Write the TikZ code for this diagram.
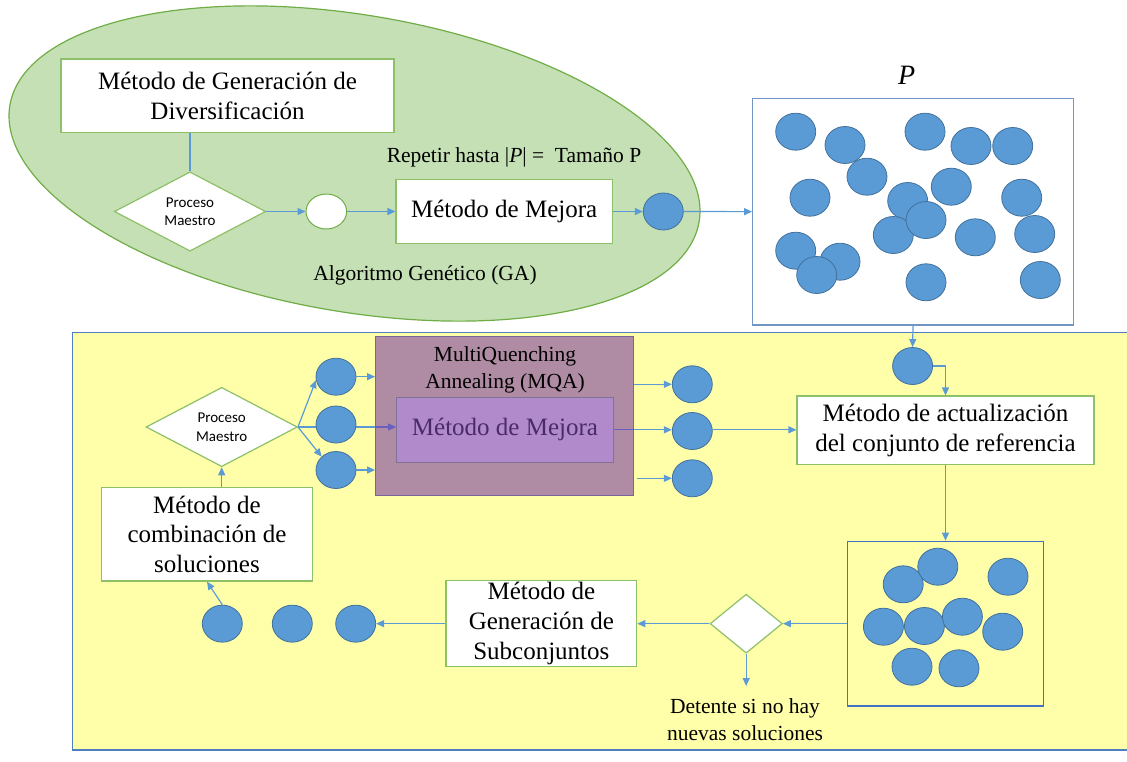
\documentclass[tikz,border=0pt]{standalone}
\usepackage{fontspec}
\setmainfont{Liberation Serif}
\newfontfamily\calfont{Carlito}
\usetikzlibrary{shapes.geometric,arrows.meta}
\definecolor{gaFill}{HTML}{C5E0B4}
\definecolor{gaLine}{HTML}{70AD47}
\definecolor{boxLine}{HTML}{8CC168}
\definecolor{connBlue}{HTML}{5B9BD5}
\definecolor{dotLine}{HTML}{41719C}
\definecolor{yel}{HTML}{FFFFAA}
\definecolor{yelLine}{HTML}{4F7FBF}
\definecolor{pLine}{HTML}{7196C4}
\definecolor{refLine}{HTML}{4472C4}
\definecolor{mqaFill}{HTML}{AF8CA3}
\definecolor{mqaLine}{HTML}{7A64A0}
\definecolor{mejFill}{HTML}{B18ACB}
\definecolor{mejLine}{HTML}{7E7296}
\definecolor{mejText}{HTML}{4A2A6A}
\definecolor{purpConn}{HTML}{6A5FC0}
\begin{document}
\begin{tikzpicture}[x=1pt,y=-1pt,
  big/.style={font=\fontsize{25}{29.7}\selectfont},
  mid/.style={font=\fontsize{21.5}{27}\selectfont},
  gbox/.style={draw=boxLine, line width=1.2pt, fill=white, align=center, inner sep=0pt, big},
  dot/.style={ellipse, draw=dotLine, line width=0.8pt, fill=connBlue, minimum width=40pt, minimum height=37pt, inner sep=0pt},
  wire/.style={draw=connBlue, line width=1.2pt},
  arr/.style={wire, -{Triangle[length=8pt,width=7pt]}},
  parr/.style={draw=purpConn, line width=1.2pt, -{Triangle[length=8pt,width=7pt]}},
  dia/.style={diamond, draw=boxLine, line width=1.2pt, fill=white, inner sep=0pt, align=center, font=\calfont\fontsize{15}{18.5}\selectfont},
  lbl/.style={align=center, inner sep=0pt},
]
\useasboundingbox (0,0) rectangle (1127,761);

% ---------- upper part: Algoritmo Genetico ----------
\node[ellipse, draw=gaLine, line width=1.2pt, fill=gaFill, minimum width=699pt, minimum height=297pt, rotate=-9.6] (ga) at (354.5,163.5) {};

\node[gbox, minimum width=333pt, minimum height=73.3pt] (gen) at (227.5,95.7) {Método de Generación de\\Diversificación};
\node[dia, minimum width=151.4pt, minimum height=79pt] (pm1) at (190,211.5) {Proceso\\Maestro};
\node[ellipse, draw=gaLine, line width=1pt, fill=white, minimum width=40.6pt, minimum height=35pt, inner sep=0pt] (wc) at (326.3,211.5) {};
\node[gbox, minimum width=216.3pt, minimum height=64.3pt] (mej1) at (504.2,211.5) {Método de Mejora};
\node[dot] (gad) at (663.3,211.5) {};
\node[lbl, mid] (rep) at (514,157) {Repetir hasta |\textit{P}| =\ \ Tamaño P};
\node[lbl, mid] (alg) at (425,275) {Algoritmo Genético (GA)};

\draw[wire] (pm1.north) -- (pm1.north |- gen.south);
\draw[arr] (pm1.east) -- (wc.west);
\draw[arr] (wc.east) -- (mej1.west);
\draw[arr] (mej1.east) -- (gad.west);

% ---------- P box ----------
\node[draw=pLine, line width=1.2pt, fill=white, minimum width=320.6pt, minimum height=226.7pt, inner sep=0pt] (pbox) at (913,211.65) {};
\node[lbl, font=\fontsize{28}{30}\selectfont\itshape] (plab) at (906.7,75) {P};
\draw[arr] (gad.east) -- (pbox.west);

\foreach \n/\x/\y in {p1/795.7/131.7, p2/845/145, p3/925/131.7, p4/971/146, p5/1012.7/146,
  p6/867/176.7, p7/810/197.7, p8/951.3/186.7, p9/1021.7/197.7, p10/907.7/201,
  p11/893.3/235, p12/926/220, p13/975.3/237.3, p14/1034.7/234, p15/795.7/250.7,
  p16/840/261.7, p17/816.7/275, p18/926/282.3, p19/1040.3/280}
  \node[dot] (\n) at (\x,\y) {};

% ---------- lower part: yellow region ----------
\fill[yel] (72.7,332.5) rectangle (1127,750);
\draw[yelLine, line width=1.2pt] (1127,332.5) -- (72.7,332.5) -- (72.7,750) -- (1127,750);

% P -> dot -> actualizacion
\node[dot] (pdot) at (912.6,366) {};
\draw[arr] (pbox.south) -- (pdot.north);
\node[gbox, minimum width=297pt, minimum height=68.3pt] (act) at (945.5,430.2) {Método de actualización\\del conjunto de referencia};
\draw[arr] (pdot.east) -| (act.north);

% reference set
\node[draw=refLine, line width=1.2pt, minimum width=196.4pt, minimum height=164.7pt, inner sep=0pt] (ref) at (945.5,623.65) {};
\draw[arr] (act.south) -- (ref.north);
\foreach \n/\x/\y in {r1/903.2/584.3, r2/937.8/566.7, r3/1008/576.7, r4/883.4/626.7,
  r5/924.4/626, r6/962.4/616.7, r7/1002.7/631.7, r8/912/666.7, r9/959/668.3}
  \node[dot] (\n) at (\x,\y) {};

% stop diamond
\node[diamond, draw=boxLine, line width=1.2pt, fill=white, inner sep=0pt, minimum width=72.3pt, minimum height=59pt] (stop) at (746.2,623.65) {};
\draw[arr] (ref.west) -- (stop.east);
\node[lbl, mid] (det) at (745,720) {Detente si no hay\\nuevas soluciones};
\coordinate (detTop) at (746.2,686);
\draw[arr] (stop.south) -- (detTop);

% subsets
\node[gbox, minimum width=190.7pt, minimum height=85.7pt] (sub) at (541.35,623.65) {Método de\\Generación de\\Subconjuntos};
\draw[arr] (stop.west) -- (sub.east);
\node[dot] (b1) at (222.3,623.65) {};
\node[dot] (b2) at (292.3,623.65) {};
\node[dot] (b3) at (355.7,623.65) {};
\draw[arr] (sub.west) -- (b3.east);

% combination
\node[gbox, minimum width=210.6pt, minimum height=93.7pt] (comb) at (207,534.2) {Método de\\combinación de\\soluciones};
\draw[arr] (b1.north) -- (comb.south);

% second master process
\node[dia, minimum width=151.3pt, minimum height=79.3pt] (pm2) at (221.7,427) {Proceso\\Maestro};
\draw[arr] (pm2.south |- comb.north) -- (pm2.south);

% MQA
\node[draw=mqaLine, line width=1.2pt, fill=mqaFill, minimum width=257.6pt, minimum height=159pt, inner sep=0pt] (mqa) at (504.5,416.2) {};
\node[lbl, mid] (mqat) at (505,369.7) {MultiQuenching\\Annealing (MQA)};
\node[draw=mejLine, line width=1.2pt, fill=mejFill, minimum width=216.6pt, minimum height=65pt, inner sep=0pt, big, text=mejText] (mej2) at (505,429.8) {Método de Mejora};

% left dots and arrows
\draw[wire] (pm2.east) -- (pm2.east -| mqa.west);
\draw[parr] (pm2.east -| mqa.west) -- (pm2.east -| mej2.west);
\node[dot] (l1) at (336,376.7) {};
\node[dot] (l2) at (336,424.5) {};
\node[dot] (l3) at (336,470) {};
\draw[arr] (pm2.east) -- (l1.190);
\draw[arr] (pm2.east) -- (l3.137);
\draw[arr] (l1.east) -- (l1.east -| mqa.west);
\draw[arr] (l3.east) -- (l3.east -| mqa.west);

% right dots and arrows
\node[dot] (o1) at (692.3,384.3) {};
\node[dot] (o2) at (692.3,431) {};
\node[dot] (o3) at (692.3,478.3) {};
\draw[arr] (mqa.east |- o1.west) -- (o1.west);
\draw[draw=purpConn, line width=1.2pt] (mej2.east) -- (mej2.east -| mqa.east);
\draw[arr] (mej2.east -| mqa.east) -- (mej2.east -| o2.west);
\draw[arr] ([xshift=3pt]mqa.east |- o3.west) -- (o3.west);
\draw[arr] (mej2.east -| o2.east) -- (mej2.east -| act.west);

\end{tikzpicture}
\end{document}
